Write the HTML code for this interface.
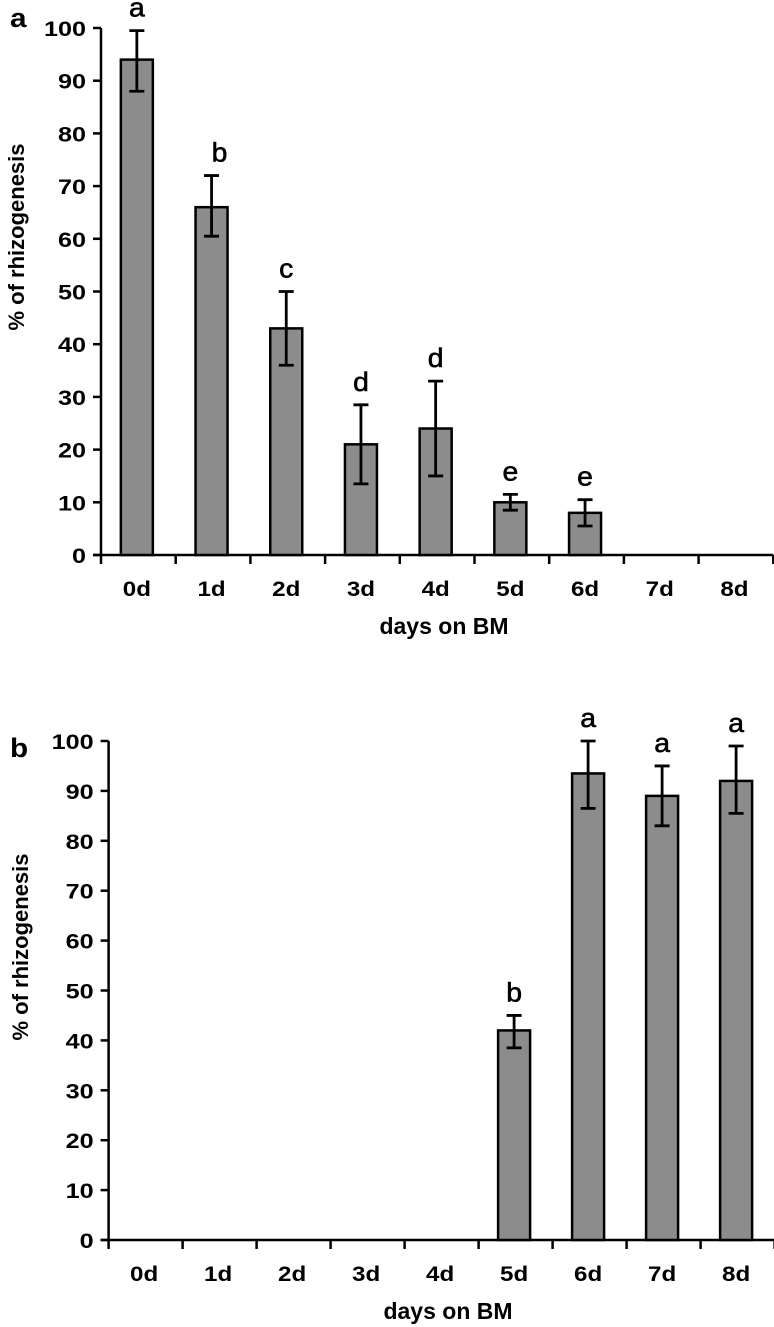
<!DOCTYPE html>
<html><head><meta charset="utf-8"><style>
html,body{margin:0;padding:0;background:#fff;}
svg{display:block;font-family:"Liberation Sans",Arial,sans-serif;}
</style></head><body>
<svg id="chart" width="774" height="1327" viewBox="0 0 774 1327"></svg>
<script>
const categories = ["0d","1d","2d","3d","4d","5d","6d","7d","8d"];
const yTicks = [0,10,20,30,40,50,60,70,80,90,100];
// panel a
const aValues = [94,66,43,21,24,10,8,null,null];
const aErrLow = [88,60.5,36,13.5,15,8.5,5.5,null,null];
const aErrHigh = [99.5,72,50,28.5,33,11.5,10.5,null,null];
const aLetters = ["a","b","c","d","d","e","e","",""];
// panel b
const bValues = [null,null,null,null,null,42,93.5,89,92];
const bErrLow = [null,null,null,null,null,38.5,86.5,83,85.5];
const bErrHigh = [null,null,null,null,null,45,100,95,99];
const bLetters = ["","","","","","b","a","a","a"];

const NS="http://www.w3.org/2000/svg";
const svg=document.getElementById('chart');
function mk(tag,attrs,parent){const e=document.createElementNS(NS,tag);for(const k in attrs)e.setAttribute(k,attrs[k]);(parent||svg).appendChild(e);return e;}
function txt(parent,x,y,s,size,weight,anchor,sx){
  const t=mk('text',{x:0,y:0,'font-size':size,'font-weight':weight,'text-anchor':anchor,transform:`translate(${x},${y}) scale(${sx},1)`},parent);
  t.textContent=s;return t;
}

function panel(opt){
  const g=mk('g',{});
  
  
  const axisX=opt.axisX, step=opt.step;
  const y0=opt.y0, y100=opt.y100;
  const ys=v=>y0-(v/100)*(y0-y100);
  const xc=i=>axisX+step*(i+0.5)-1.5;
  const right=axisX+step*categories.length;
  const pl=txt(g,10,opt.labelY,opt.label,27,'bold','start',1.1);
  
  
  const ya=mk('line',{x1:axisX,y1:y100,x2:axisX,y2:y0+1,stroke:'#000','stroke-width':2.5},g);
  
  
  yTicks.forEach(t=>{
    mk('line',{x1:axisX-8,y1:ys(t),x2:axisX,y2:ys(t),stroke:'#000','stroke-width':2.5},g);
    const tl=txt(g,axisX-15,ys(t)+8,String(t),21,'bold','end',1.2);
    
    
  });
  const xa=mk('line',{x1:axisX-8,y1:y0,x2:right,y2:y0,stroke:'#000','stroke-width':2.5},g);
  
  
  for(let i=0;i<=categories.length;i++){
    mk('line',{x1:axisX+step*i,y1:y0,x2:axisX+step*i,y2:y0+9,stroke:'#000','stroke-width':2.5},g);
  }
  categories.forEach((c,i)=>{
    const t=txt(g,xc(i),y0+41,c,21,'bold','middle',1.15);
    
    
    const v=opt.values[i];
    if(v==null) return;
    const bw=32;
    const r=mk('rect',{x:xc(i)-bw/2,y:ys(v),width:bw,height:y0-ys(v),fill:'#8c8c8c',stroke:'#000','stroke-width':2.5},g);
    
    
    const lo=ys(opt.lo[i]),hi=ys(opt.hi[i]);
    const eb=mk('path',{d:`M${xc(i)},${lo}V${hi}M${xc(i)-7.5},${hi}H${xc(i)+7.5}M${xc(i)-7.5},${lo}H${xc(i)+7.5}`,stroke:'#000','stroke-width':2.8,fill:'none'},g);
    
    
    const lt=txt(g,xc(i)+(i===1&&opt.label==='a'?8:0),hi-14,opt.letters[i],27,'normal','middle',1.05);
    lt.setAttribute('stroke','#000');
    lt.setAttribute('stroke-width','0.6');
    
    
  });
  const xt=txt(g,opt.titleX,y0+79,'days on BM',23,'bold','middle',1.0);
  
  
  const yt=mk('text',{x:0,y:0,'font-size':22,'font-weight':'bold','text-anchor':'middle',transform:`translate(${opt.ytX},${opt.ytY}) rotate(-90)`},g);
  yt.textContent='% of rhizogenesis';
  
  
}
panel({name:'panel-a',label:'a',labelY:27,axisX:101,step:74.7,y0:555,y100:28,titleX:444,ytX:24,ytY:237,values:aValues,lo:aErrLow,hi:aErrHigh,letters:aLetters});
panel({name:'panel-b',label:'b',labelY:757,axisX:108.6,step:74,y0:1240,y100:741,titleX:448,ytX:28,ytY:947,values:bValues,lo:bErrLow,hi:bErrHigh,letters:bLetters});
</script>
</body></html>
